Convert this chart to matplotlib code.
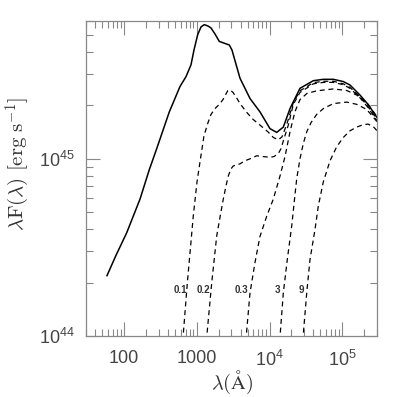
import matplotlib
matplotlib.use('Agg')
import matplotlib.pyplot as plt
from matplotlib.ticker import FixedLocator, LogLocator, NullFormatter

# total spectrum (solid)
lam_total = [58.3, 77.5, 109, 166, 222, 281, 419, 588, 711, 832, 915, 1029, 1142, 1268,
             1426, 1567, 1778, 2039, 2366, 2799, 3048, 3275, 3926, 5387, 7391, 10140,
             12540, 15460, 19100, 26200, 39940, 54800, 75300, 103200, 127600, 175000,
             225600, 300000]
flux_total = [2.19e44, 2.85e44, 3.83e44, 5.93e44, 8.66e44, 1.14e45, 1.84e45, 2.56e45,
              2.91e45, 3.39e45, 4.11e45, 5.02e45, 5.55e45, 5.72e45, 5.62e45, 5.48e45,
              5.07e45, 4.60e45, 4.50e45, 4.39e45, 4.11e45, 3.70e45, 2.85e45, 2.19e45,
              1.84e45, 1.48e45, 1.41e45, 1.51e45, 1.92e45, 2.50e45, 2.76e45, 2.81e45,
              2.81e45, 2.73e45, 2.61e45, 2.29e45, 2.03e45, 1.71e45]

# dashed curves
lam_01 = [627, 741, 895, 1007, 1107, 1256, 1426, 1567, 1778, 2039, 2291, 2660, 2860, 3146,
          3570, 3926, 4853, 5929, 7391, 9520, 11270, 13190, 14830, 17380, 21220, 26200,
          39940, 54800, 75300, 103200, 127600, 175000, 225600, 300000]
flux_01 = [8.33e43, 1.99e44, 4.76e44, 7.40e44, 9.61e44, 1.35e45, 1.60e45, 1.78e45, 1.92e45,
           2.03e45, 2.16e45, 2.42e45, 2.45e45, 2.37e45, 2.19e45, 2.05e45, 1.83e45, 1.67e45,
           1.55e45, 1.42e45, 1.32e45, 1.28e45, 1.33e45, 1.58e45, 2.08e45, 2.42e45, 2.69e45,
           2.74e45, 2.74e45, 2.65e45, 2.53e45, 2.24e45, 1.97e45, 1.67e45]

lam_02 = [1318, 1603, 1879, 2085, 2314, 2520, 2710, 2952, 3175, 3926, 4600, 5387, 6653,
          8128, 10140, 11510, 13190, 14350, 15810, 18110, 21220, 26200, 39940, 54800,
          75300, 103200, 127600, 175000, 225600, 300000]
flux_02 = [8.33e43, 1.99e44, 3.67e44, 4.68e44, 5.93e44, 7.03e44, 8.00e44, 8.77e44, 9.12e44,
           9.37e44, 9.75e44, 1.00e45, 1.04e45, 1.03e45, 1.02e45, 1.03e45, 1.07e45, 1.14e45,
           1.30e45, 1.55e45, 2.03e45, 2.37e45, 2.65e45, 2.70e45, 2.70e45, 2.62e45, 2.50e45,
           2.21e45, 1.95e45, 1.64e45]

lam_03 = [4600, 5387, 6310, 7391, 9140, 11270, 13930, 16320, 19100, 22390, 26200, 32730,
          44460, 75300, 115100, 157800, 216600, 300000]
flux_03 = [8.33e43, 1.75e44, 2.60e44, 3.65e44, 4.74e44, 5.93e44, 8.00e44, 1.03e45, 1.42e45,
           1.85e45, 2.16e45, 2.34e45, 2.42e45, 2.48e45, 2.43e45, 2.29e45, 2.08e45, 1.73e45]

lam_3 = [13490, 15460, 17540, 20180, 21680, 23610, 26200, 29110, 32430, 37150, 44460,
         54800, 75300, 115100, 157800, 216600, 300000]
flux_3 = [8.33e43, 1.75e44, 2.70e44, 4.18e44, 5.55e44, 7.70e44, 1.00e45, 1.22e45, 1.42e45,
          1.60e45, 1.78e45, 1.92e45, 2.05e45, 2.09e45, 2.03e45, 1.90e45, 1.62e45]

lam_9 = [27920, 32430, 35970, 42170, 46770, 54800, 67800, 83750, 103200, 127600, 157800,
         194500, 225600, 266700, 300000]
flux_9 = [8.33e43, 1.75e44, 2.70e44, 4.00e44, 5.41e44, 7.40e44, 9.75e44, 1.17e45, 1.32e45,
          1.44e45, 1.51e45, 1.56e45, 1.57e45, 1.52e45, 1.44e45]

# curve labels
label_text = ['0.1', '0.2', '0.3', '3', '9']
label_lam = [588, 1228, 4055, 12950, 27050]
label_flux = 1.82e44

x_ticks = [100, 1000, 1e4, 1e5]
x_ticklabels = ['100', '1000', r'$\mathregular{10^4}$', r'$\mathregular{10^5}$']
y_ticks = [1e44, 1e45]
y_ticklabels = [r'$\mathregular{10^{44}}$', r'$\mathregular{10^{45}}$']

plt.rcParams['font.family'] = ['Liberation Sans', 'DejaVu Sans']

fig = plt.figure(figsize=(3.99, 3.97), dpi=100)
ax = fig.add_axes([0.2155, 0.1537, 0.7294, 0.7935])

ax.plot(lam_total, flux_total, color='black', lw=1.1)
for lam, flux in [(lam_01, flux_01), (lam_02, flux_02), (lam_03, flux_03),
                  (lam_3, flux_3), (lam_9, flux_9)]:
    ax.plot(lam, flux, color='black', lw=0.9, ls=(0, (4, 3)))

for t, l in zip(label_text, label_lam):
    ax.text(l, label_flux, t, fontsize=7, fontweight='bold', ha='center', va='center',
            color='#333333')

ax.set_xscale('log')
ax.set_yscale('log')
ax.set_xlim(30, 3e5)
ax.set_ylim(1e44, 6e45)

ax.xaxis.set_major_locator(FixedLocator(x_ticks))
ax.set_xticklabels(x_ticklabels)
ax.xaxis.set_minor_locator(LogLocator(base=10, subs=range(2, 10), numticks=20))
ax.xaxis.set_minor_formatter(NullFormatter())
ax.yaxis.set_major_locator(FixedLocator(y_ticks))
ax.set_yticklabels(y_ticklabels)
ax.yaxis.set_minor_locator(LogLocator(base=10, subs=range(2, 10), numticks=20))
ax.yaxis.set_minor_formatter(NullFormatter())

gray = '#888888'
for s in ax.spines.values():
    s.set_color(gray)
    s.set_linewidth(0.9)
ax.tick_params(which='both', direction='in', top=True, right=True, color=gray,
               labelcolor='#444444', labelsize=13)
ax.tick_params(which='major', length=10, width=0.8)
ax.tick_params(which='minor', length=5, width=0.8)
ax.tick_params(axis='x', which='major', pad=10)
ax.tick_params(axis='y', which='major', pad=8)

ax.set_xlabel(r'$\lambda(\rm\AA)$', fontsize=14.5, color='#333333', math_fontfamily='cm')
ax.xaxis.set_label_coords(0.5, -0.105)
ax.set_ylabel(r'$\lambda{\rm F}(\lambda)\ [{\rm erg\ s}^{-1}]$', fontsize=15,
              color='#333333', math_fontfamily='cm')
ax.yaxis.set_label_coords(-0.185, 0.546)

fig.savefig('out.png', dpi=100)
